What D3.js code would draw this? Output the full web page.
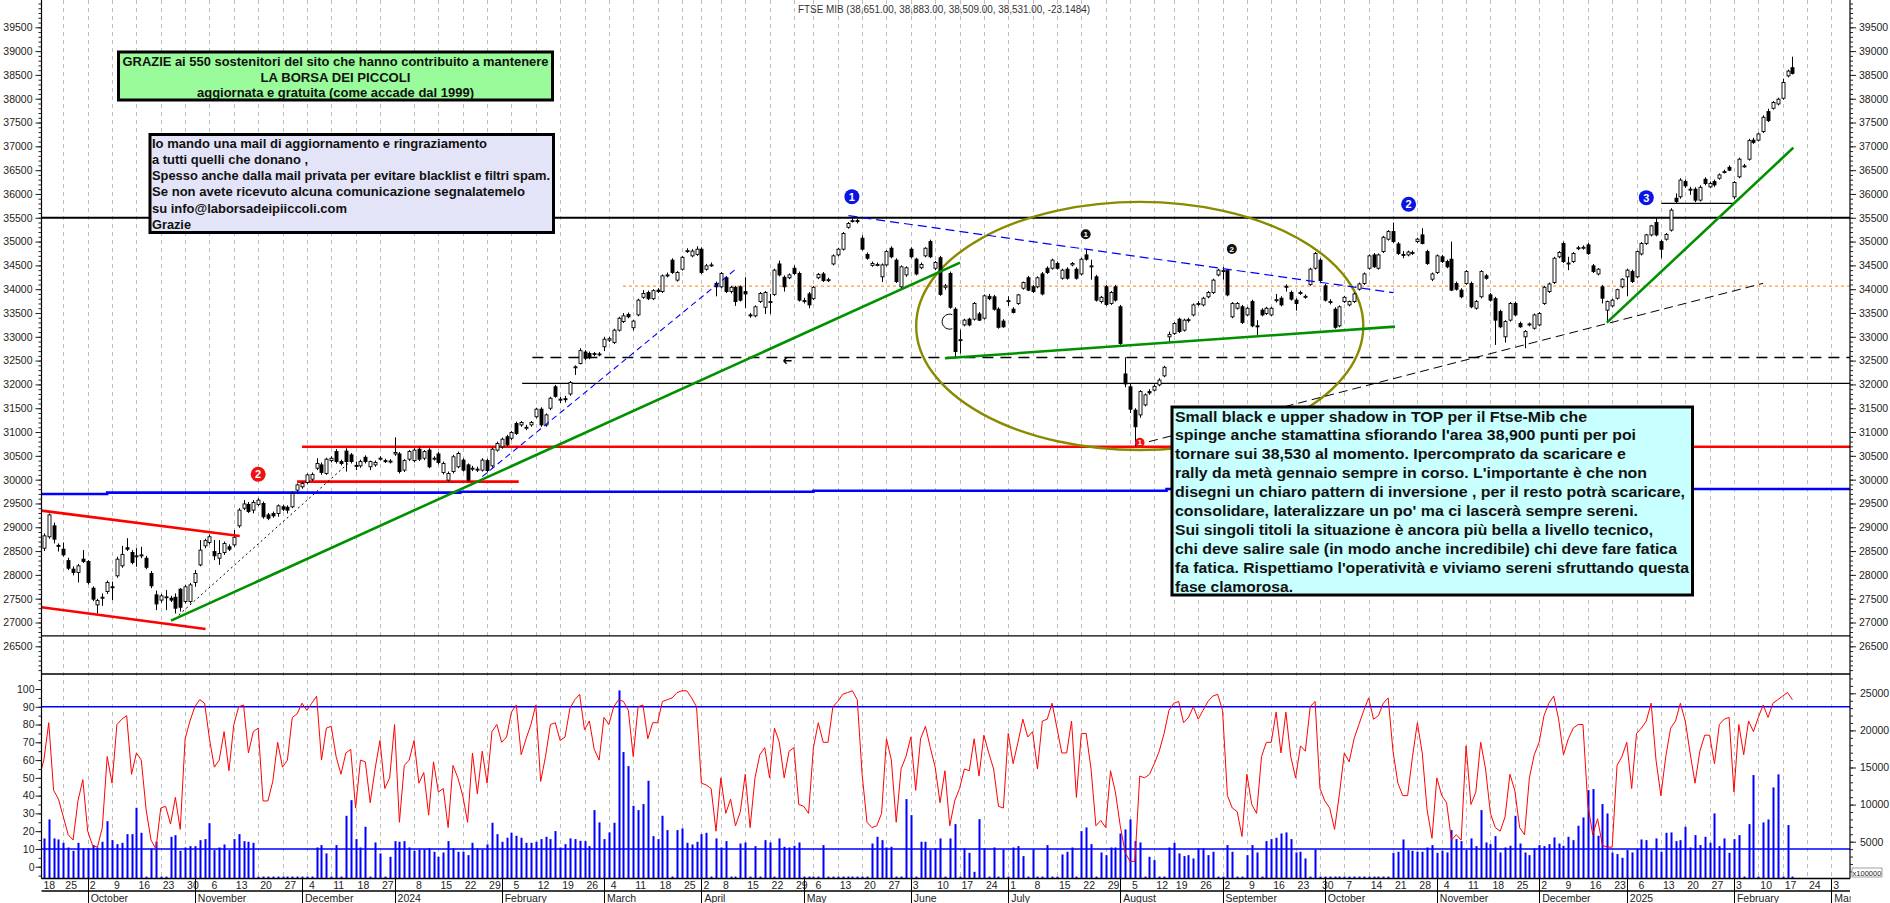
<!DOCTYPE html>
<html><head><meta charset="utf-8">
<script src="https://cdn.jsdelivr.net/npm/d3@7"></script>
<style>
html,body{margin:0;padding:0;background:#fff;}
svg{display:block;font-family:"Liberation Sans",Arial,sans-serif;}
</style></head><body>
<svg id="chart" width="1890" height="903"></svg>
<script>
// ---------------- DATA ----------------
const holidays = ["2023-12-25","2023-12-26","2024-01-01","2024-03-29","2024-04-01","2024-05-01","2024-08-15","2024-12-24","2024-12-25","2024-12-26","2024-12-31","2025-01-01"];
const monthLabels = ["October","November","December","2024","February","March","April","May","June","July","August","September","October","November","December","2025","February","Mar"];
const priceTicks = d3.range(26500, 39501, 500);
const oscTicks = d3.range(0, 101, 10);
const volTicks = [5000, 10000, 15000, 20000, 25000];
const titleText = "FTSE MIB (38,651.00, 38,883.00, 38,509.00, 38,531.00, -23.1484)";

// daily candles [open, high, low, close] from 18 Sep 2023
const candles = [
[28700,28800,28520,28560],[28560,28870,28500,28820],[28800,29290,28760,29260],[29030,29100,28660,28750],[28620,28660,28490,28600],
[28540,28680,28380,28420],[28300,28360,28100,28140],[28120,28180,27990,28050],[28050,28230,27840,28190],[28330,28520,28250,28280],
[28280,28310,27800,27840],[27720,27760,27450,27490],[27370,27500,27190,27460],[27510,27610,27350,27530],[27650,27880,27600,27840],
[27750,27860,27470,27730],[27980,28380,27940,28330],[28190,28610,28150,28430],[28570,28770,28500,28540],[28470,28520,28220,28260],
[28380,28560,28170,28400],[28410,28590,28350,28420],[28350,28400,28120,28160],[28030,28080,27720,27770],[27580,27670,27260,27390],
[27470,27600,27420,27560],[27530,27680,27260,27540],[27510,27560,27430,27470],[27530,27610,27190,27300],[27700,27720,27230,27320],
[27440,27790,27400,27750],[27440,27830,27400,27790],[27840,28100,27750,28030],[28210,28730,28180,28520],[28610,28760,28560,28720],
[28680,28850,28640,28800],[28490,28730,28310,28400],[28350,28730,28210,28450],[28470,28700,28420,28660],[28590,28640,28500,28540],
[28630,28940,28590,28790],[29030,29400,28990,29360],[29400,29570,29360,29490],[29480,29530,29300,29330],[29360,29570,29290,29520],
[29480,29610,29450,29570],[29500,29540,29180,29220],[29260,29300,29150,29190],[29290,29330,29200,29240],[29290,29480,29220,29450],
[29430,29470,29340,29380],[29420,29460,29290,29360],[29430,29750,29400,29710],[29780,29920,29740,29890],[29850,29960,29810,29920],
[29940,30130,29900,30100],[30010,30150,29970,30110],[30240,30450,30200,30340],[30310,30360,30100,30150],[30130,30460,30100,30430],
[30400,30490,30360,30450],[30590,30640,30340,30380],[30380,30420,30300,30340],[30600,30660,30170,30380],[30520,30560,30340,30380],
[30300,30380,30200,30290],[30290,30420,30250,30380],[30470,30510,30340,30380],[30270,30400,30200,30380],[30310,30400,30270,30360],
[30440,30490,30400,30450],[30400,30440,30350,30390],[30380,30430,30340,30390],[30540,30890,30500,30570],[30540,30580,30130,30170],
[30200,30430,30160,30400],[30430,30620,30390,30590],[30400,30660,30360,30620],[30640,30680,30390,30430],[30450,30620,30410,30590],
[30620,30660,30240,30270],[30440,30490,30400,30450],[30540,30580,30320,30360],[30150,30380,30110,30340],[29990,30170,29960,30130],
[30170,30520,30130,30480],[30270,30590,30240,30550],[30410,30450,30170,30200],[30310,30340,29960,29990],[30230,30290,30180,30240],
[30210,30270,30160,30220],[30200,30450,30170,30410],[30400,30440,30150,30190],[30290,30670,30250,30640],[30620,30800,30590,30760],
[30690,30880,30650,30850],[30900,30940,30690,30730],[30870,31020,30830,30990],[31180,31220,30940,30970],[31150,31230,31110,31200],
[31090,31150,31040,31100],[31150,31230,31110,31200],[31320,31510,31290,31480],[31480,31520,31110,31150],[31150,31390,31110,31360],
[31500,31740,31460,31710],[31950,31990,31720,31750],[31680,31740,31610,31690],[31700,31760,31620,31690],[31800,32070,31760,32040],
[32360,32400,32200,32370],[32440,32760,32420,32710],[32680,32720,32510,32550],[32650,32690,32530,32560],[32630,32680,32590,32650],
[32640,32680,32590,32620],[32790,33000,32700,32950],[32930,33000,32890,32960],[32880,33170,32850,33140],[33140,33420,33110,33390],
[33320,33500,33290,33440],[33470,33510,33390,33420],[33190,33360,33130,33330],[33460,33800,33430,33770],[33830,33980,33800,33910],
[33930,33970,33770,33800],[33800,34000,33770,33970],[33980,34020,33920,33950],[33950,34310,33920,34280],[34280,34350,34250,34300],
[34610,34650,34320,34350],[34190,34380,34160,34350],[34420,34700,34390,34670],[34790,34860,34760,34810],[34700,34840,34670,34800],
[34730,34900,34700,34840],[34840,34880,34320,34350],[34420,34530,34390,34490],[34500,34560,34470,34510],[34120,34160,33850,34050],
[34050,34360,34020,34330],[34240,34280,33920,33950],[33950,34070,33910,34040],[34040,34070,33650,33740],[34050,34080,33740,33770],
[33950,34250,33600,33900],[33460,33500,33400,33440],[33440,33660,33410,33630],[33740,33940,33710,33910],[33620,33960,33480,33930],
[33720,33900,33480,33740],[33890,34430,33860,34400],[34530,34600,34270,34300],[34250,34290,33950,34050],[34240,34330,34210,34300],
[34440,34500,34300,34330],[34330,34370,33740,33770],[33760,33820,33700,33750],[33900,33940,33600,33670],[33800,34070,33770,34040],
[34240,34340,34210,34310],[34320,34360,34150,34180],[34190,34240,34150,34200],[34530,34730,34500,34700],[34720,34870,34690,34840],
[34840,35200,34810,35170],[35300,35410,35270,35380],[35420,35520,35400,35440],[35440,35480,35380,35420],[35070,35130,34810,34840],
[34730,34770,34620,34650],[34500,34580,34470,34540],[34510,34560,34480,34520],[34260,34540,34150,34510],[34510,34820,34480,34790],
[34860,34900,34650,34680],[34610,34650,34130,34160],[34050,34500,34020,34470],[34300,34480,34260,34450],[34840,34880,34650,34680],
[34630,34660,34290,34320],[34450,34560,34420,34520],[34700,34880,34670,34860],[35000,35040,34650,34680],[34440,34590,34400,34560],
[34660,34700,33860,33890],[34040,34110,33990,34070],[34330,34370,33590,33620],[33580,33620,32550,32690],[32920,33150,32650,32940],
[33250,33380,33220,33350],[33370,33400,33220,33250],[33370,33730,33340,33700],[33480,33520,33330,33350],[33390,33890,33360,33860],
[33850,33900,33770,33800],[33840,33880,33550,33580],[33580,33620,33170,33200],[33330,33370,33190,33210],[33750,33850,33650,33760],
[33580,33620,33490,33510],[33700,33900,33670,33880],[34020,34160,33990,34140],[34240,34280,33960,33980],[34050,34090,33920,33950],
[34050,34270,34020,34240],[34320,34360,33870,33900],[34440,34480,34320,34350],[34440,34640,34410,34610],[34540,34580,34410,34440],
[34230,34430,34200,34400],[34420,34460,34200,34230],[34510,34570,34480,34540],[34420,34460,34200,34230],[34320,34660,34290,34630],
[34720,34830,34600,34630],[34480,34620,34200,34490],[34260,34300,33740,33770],[33740,33860,33700,33830],[34050,34090,33650,33680],
[33700,33960,33670,33930],[34050,34090,33740,33770],[33630,33670,32830,32860],[32220,32570,31940,32010],[31950,32020,31400,31480],
[31460,31500,30700,31110],[31360,31880,31300,31850],[31570,31810,31540,31780],[31850,31900,31780,31820],[31880,32000,31850,31960],
[31990,32130,31960,32090],[32180,32390,32150,32360],[33000,33110,32900,33050],[33070,33310,33040,33280],[33370,33400,33080,33110],
[33140,33380,33110,33350],[33340,33400,33300,33360],[33460,33700,33430,33670],[33690,33750,33650,33700],[33670,33840,33640,33810],
[33840,33960,33810,33930],[33930,34220,33900,34190],[34300,34430,34270,34400],[34380,34470,34200,34390],[34390,34420,33850,33880],
[33420,33730,33390,33700],[33600,33730,33570,33700],[33630,33670,33270,33300],[33460,33630,33430,33600],[33740,33780,33200,33230],
[33230,33350,33040,33220],[33560,33600,33430,33460],[33490,33630,33460,33600],[33460,33630,33430,33600],[33760,33900,33720,33780],
[33810,33850,33640,33670],[34040,34100,33950,34060],[33930,33970,33760,33790],[33770,33810,33550,33700],[33920,33970,33880,33930],
[33840,33890,33800,33850],[34100,34450,34070,34420],[34440,34780,34410,34750],[34610,34650,34150,34180],[34070,34110,33740,33770],
[33730,33790,33680,33740],[33580,33620,33170,33200],[33230,33660,33200,33630],[33740,33860,33710,33830],[33670,33760,33640,33740],
[33740,33930,33710,33900],[34000,34140,33970,34110],[34120,34350,34090,34320],[34440,34730,34410,34700],[34720,34760,34450,34470],
[34440,34750,34410,34720],[34790,35120,34760,35090],[35050,35240,35020,35210],[35210,35400,34970,35000],[34950,34990,34720,34750],
[34730,34800,34650,34720],[34720,34810,34690,34780],[34760,34810,34720,34770],[35000,35080,34970,35050],[35140,35280,34940,34960],
[34790,34830,34510,34540],[34210,34350,34170,34320],[34350,34730,34320,34700],[34680,34720,34550,34580],[34580,34620,34440,34470],
[34630,35000,33960,33980],[34120,34160,33970,34000],[33980,34020,33810,33840],[34120,34400,34090,34370],[34120,34160,33600,33630],
[33600,33770,33570,33740],[33840,34400,33810,34370],[34280,34320,34200,34230],[33880,33920,33740,33770],[33800,33840,32830,33350],
[33530,33570,33180,33210],[33000,33350,32880,33320],[33350,33730,33320,33700],[33700,33740,33430,33460],[33280,33320,33190,33210],
[33000,33140,32760,33110],[33260,33300,33220,33270],[33180,33490,33150,33460],[33250,33520,33220,33490],[33700,34070,33670,34040],
[33950,34140,33920,34110],[34140,34680,34110,34650],[34680,34800,34650,34770],[34960,35000,34550,34580],[34540,34680,34400,34550],
[34580,34780,34550,34750],[34860,34910,34820,34870],[34870,34920,34830,34880],[34930,34970,34720,34750],[34490,34530,34340,34370],
[34320,34440,34290,34420],[34050,34090,33700,33810],[33560,33760,33300,33740],[33650,33800,33620,33770],[33810,34010,33780,33990],
[34050,34230,34020,34210],[34260,34430,33850,34400],[34370,34410,34130,34160],[34260,34810,34230,34790],[34740,34990,34710,34960],
[34960,35160,34930,35140],[35140,35350,35110,35330],[35400,35490,35110,35140],[35000,35040,34650,34840],[35050,35180,35020,35150],
[35240,35700,35210,35660],[35910,36010,35800,35840],[35940,36330,35900,36290],[36260,36300,36130,36170],[36090,36150,35980,36100],
[36100,36140,35830,35870],[35870,36180,35840,36140],[36310,36350,36180,36220],[36150,36260,36120,36220],[36260,36300,36150,36190],
[36330,36430,36300,36400],[36460,36510,36430,36470],[36560,36600,36480,36500],[35940,36270,35890,36240],[36360,36760,36330,36730],
[36580,36630,36550,36590],[36730,37160,36700,37120],[37130,37180,37050,37080],[37130,37290,37100,37260],[37310,37650,37280,37610],
[37730,37790,37510,37540],[37800,37950,37770,37920],[37890,38020,37860,37990],[38010,38420,37980,38340],[38480,38610,38450,38580],
[38651,38883,38509,38531]
];

// oscillator (0-100)
const osc = [
50,60,81,43,38,28,18,15,37,49, 20,12,11,22,62,47,80,83,85,52, 64,60,32,15,10,33,34,24,39,21, 72,82,90,94,92,72,56,60,76,54,
80,90,91,64,76,78,37,37,48,70, 56,60,84,86,92,88,92,96,60,78, 79,62,52,64,66,33,60,59,36,55, 71,44,50,80,25,57,60,71,47,53,
29,59,42,44,22,57,50,40,25,64, 41,65,47,76,80,70,73,87,91,63, 72,80,91,48,62,80,81,71,73,89, 94,97,77,82,66,60,84,80,90,94,
93,88,62,90,91,72,81,81,93,94, 95,98,99,99,95,90,47,46,44,20, 50,30,38,23,31,52,22,50,63,67, 50,78,70,50,65,67,35,34,30,67,
81,70,70,90,93,97,98,99,94,52, 25,22,23,30,72,60,25,55,62,73, 43,72,79,67,56,36,54,23,37,44, 55,54,72,51,74,64,55,34,33,75,
58,70,83,73,76,55,82,83,92,78, 64,64,82,39,75,75,55,23,26,22, 54,42,23,8,3,3,51,50,52,58, 65,75,88,92,93,81,84,90,83,88,
93,96,97,88,40,33,31,17,52,35, 30,62,70,70,87,64,87,62,50,68, 65,90,93,44,37,33,21,41,64,59, 72,80,88,95,83,85,92,95,65,47,
40,40,62,81,64,32,16,50,40,36, 15,18,15,68,35,42,70,55,30,22, 20,28,52,43,22,18,50,63,70,85, 92,96,83,63,72,78,80,80,35,18,
27,12,11,11,57,62,70,44,75,78, 82,92,60,40,62,78,82,92,82,64, 47,65,74,74,58,80,83,84,42,80, 63,82,76,84,91,84,92,94,96,98,94
];

// volume (x100000)
const volume = [
5000,5440,8000,5440,5300,4850,4220,3780,4850,4090, 4090,4540,4220,4990,7770,5210,4670,4850,6020,6020,
9570,6200,300,4090,4990,300,300,5660,5880,3780, 4220,4400,4400,5210,5350,7500,3870,4220,4630,3870,
5350,6020,5080,4990,4850,300,300,300,300,300, 300,300,300,300,300,300,300,4220,4540,3420,
300,4540,300,8490,10600,5350,4220,7010,300,4900, 3420,300,2970,5080,4990,5080,4220,3780,3950,3950,
4090,3640,2970,3550,5080,4090,3640,3640,3190,4850, 4090,3950,4630,7550,6020,4990,5530,6200,5800,5530,
4850,4850,4990,5350,5660,5350,6430,4220,4670,5440, 5350,5120,5080,4400,9260,7600,5350,6250,7550,25390,
17080,15190,9840,9260,10070,13210,5750,5350,8490,6560, 300,6560,6790,4850,4630,4990,6020,6200,300,5440,
4220,5080,300,300,4760,4900,300,4400,300,5210, 4900,300,5440,4310,4220,4450,4900,300,300,300,
300,4540,300,300,300,300,300,300,300,300, 300,4760,5660,5210,4220,4310,300,300,10740,8580,
300,4990,4990,3870,4090,5440,300,5440,7370,300, 4090,3500,940,8040,4090,300,4220,300,3950,300,
4220,4400,3060,300,3950,300,300,4540,300,300, 3280,3640,4220,300,6430,6920,4670,300,3550,3190,
4220,4220,6110,6650,8000,5080,4900,300,2970,2520, 300,300,4220,4850,3420,3060,3190,2740,4090,4090,
3190,3640,300,300,4540,3640,300,300,3190,4540, 3550,300,5080,5350,5530,6110,6250,5350,3550,3640,
2740,300,3950,300,300,300,300,300,300,300, 300,300,300,300,300,300,300,300,3500,3640,
5300,3870,3780,3640,3640,4220,4540,3500,3780,3550, 6560,5350,5080,3870,5440,4400,9260,4900,4670,5750,
3550,4220,4450,8490,4760,3550,3190,4090,4540,4400, 4670,5570,4760,4450,5660,5210,7150,8270,11950,12090,
5800,10070,8810,3550,3330,2830,3870,3550,4000,5300, 5210,3870,5440,3640,6200,6250,5080,5210,7010,4220,
5890,4540,5660,4850,8810,4400,5440,3500,5350,5890, 300,7370,13980,300,7600,8000,12310,14070,300,7240,300
];

// drawn studies, in (day index, price) terms
const levels = [
  {kind:"resistance", from:-1,    to:372,  v:35500},
  {kind:"thinBlack",  from:-1,    to:372,  v:26717},
  {kind:"thinBlack",  from:99.2,  to:372,  v:32020},
  {kind:"dashBlack",  from:101.3, to:372,  v:32565},
  {kind:"orangeDot",  from:119.9, to:372,  v:34065},
  {kind:"redThick",   from:54,    to:372,  v:30690},
  {kind:"redThick",   from:53,    to:98.5, v:29958},
  {kind:"thinBlack",  from:333.1, to:347.9,v:35803}
];
const trendlines = [
  {kind:"redThick",  a:[0.5,29349],  b:[41.2,28817]},
  {kind:"redThick",  a:[0.5,27319],  b:[34.2,26864]},
  {kind:"green",     a:[27.1,27039], b:[189.1,34557]},
  {kind:"dotBlack",  a:[28.7,27158], b:[63.5,30343]},
  {kind:"blueDash",  a:[91,30063],   b:[143.1,34424]},
  {kind:"blueDash2", a:[166.2,35544],b:[278.1,33927]},
  {kind:"green",     a:[186,32548],  b:[278.4,33213]},
  {kind:"green",     a:[321.9,33297],b:[360.2,36972]},
  {kind:"dashBlack2",a:[227.9,30798],b:[354,34123]}
];
const blueSupport = [[-1,29700],[14,29700],[14,29727],[86.5,29727],[86.5,29746],[159,29746],[159,29767],[231.5,29767],[231.5,29804],[372,29804]];
const ellipse = {i:226, v:33229, di:45.9, dv:2605};
const markers = [
  {i:166.9, v:35943, t:"1", kind:"blue"},
  {i:281.2, v:35783, t:"2", kind:"blue"},
  {i:330,   v:35922, t:"3", kind:"blue"},
  {i:45,    v:30113, t:"2", kind:"red"},
  {i:226,   v:30777, t:"1", kind:"redSmall"},
  {i:214.9, v:35153, t:"1", kind:"black"},
  {i:244.9, v:34844, t:"2", kind:"black"}
];
const arcMark = {i:186.7, v:33318};
const arrowMark = {i:153.7, v:32498};

const greenBoxLines = ["GRAZIE ai 550 sostenitori del sito che hanno contribuito a mantenere","LA BORSA DEI PICCOLI","aggiornata e gratuita (come accade dal 1999)"];
const lavenderLines = ["Io mando una mail di aggiornamento e ringraziamento","a tutti quelli che donano ,","Spesso anche dalla mail privata per evitare blacklist e filtri spam.","Se non avete ricevuto alcuna comunicazione segnalatemelo","su info@laborsadeipiiccoli.com","Grazie"];
const cyanLines = ["Small black e upper shadow in TOP per il Ftse-Mib che","spinge anche stamattina sfiorando l'area 38,900 punti per poi","tornare sui 38,530 al momento. Ipercomprato da scaricare e","rally da metà gennaio sempre in corso. L'importante è che non","disegni un chiaro pattern di inversione , per il resto potrà scaricare,","consolidare, lateralizzare un po' ma ci lascerà sempre sereni.","Sui singoli titoli la situazione è ancora più bella a livello tecnico,","chi deve salire sale (in modo anche incredibile) chi deve fare fatica","fa fatica. Rispettiamo l'operatività e viviamo sereni sfruttando questa","fase clamorosa."];

// ---------------- CALENDAR ----------------
function buildCalendar(n){
  const out=[]; const d=new Date(Date.UTC(2023,8,18));
  while(out.length<n){
    const wd=d.getUTCDay(), iso=d.toISOString().slice(0,10);
    if(wd!==0 && wd!==6 && !holidays.includes(iso)) out.push(new Date(d.getTime()));
    d.setUTCDate(d.getUTCDate()+1);
  }
  return out;
}
const dates = buildCalendar(378);

// ---------------- LAYOUT / SCALES ----------------
const L = 41.5, R = 1850, mainTop = 0, sep = 674, lowBottom = 878.5, dayRow = 891;
const x = d3.scaleLinear().domain([0,360]).range([39,1792.4]);
const y = d3.scaleLinear().domain([26500,39500]).range([646.3,27.3]);
const yo = d3.scaleLinear().domain([0,100]).range([866.7,689]);
const yv = d3.scaleLinear().domain([0,25000]).range([878.8,693.3]);

const svg = d3.select("#chart");
const defs = svg.append("defs");
defs.append("clipPath").attr("id","clipMain").append("rect").attr("x",L).attr("y",mainTop).attr("width",R-L).attr("height",sep-mainTop);
defs.append("clipPath").attr("id","clipLow").append("rect").attr("x",L).attr("y",sep).attr("width",R-L).attr("height",lowBottom-sep);

// week starts / labels
const weekStarts=[]; let lastLbl=-99;
for(let i=0;i<dates.length;i++){
  const newWeek = i===0 || dates[i].getUTCDay() <= dates[i-1].getUTCDay() || (dates[i]-dates[i-1]) > 4*864e5;
  if(newWeek && i-lastLbl>=4){ weekStarts.push(i); lastLbl=i; }
}
const monthStarts=[];
for(let i=1;i<dates.length;i++) if(dates[i].getUTCMonth()!==dates[i-1].getUTCMonth()) monthStarts.push(i);

// gridlines
const grid = svg.append("g");
grid.selectAll("line").data(weekStarts.filter(i=>x(i)>L+1 && x(i)<R-1)).join("line")
  .attr("x1",i=>Math.round(x(i))+0.5).attr("x2",i=>Math.round(x(i))+0.5)
  .attr("y1",0).attr("y2",lowBottom).attr("stroke","#bdbdbd").attr("stroke-width",1).attr("stroke-dasharray","4,4");

// ---------------- MAIN PANEL ----------------
const gm = svg.append("g").attr("clip-path","url(#clipMain)");
const style = {
  resistance:{c:"#000",w:2.2,d:null}, thinBlack:{c:"#000",w:1.3,d:null}, dashBlack:{c:"#000",w:1.3,d:"11,7"},
  orangeDot:{c:"#ff9a3c",w:1.2,d:"3,3"}, redThick:{c:"#ff0000",w:2.6,d:null}, green:{c:"#009000",w:2.6,d:null},
  dotBlack:{c:"#000",w:1,d:"2,3"}, blueDash:{c:"#0000ff",w:1.1,d:"6,4"}, blueDash2:{c:"#0000ff",w:1.2,d:"9,5"},
  dashBlack2:{c:"#000",w:1,d:"9,5"}
};
gm.selectAll("line.lvl").data(levels).join("line").attr("class","lvl")
  .attr("x1",d=>x(d.from)).attr("x2",d=>x(d.to)).attr("y1",d=>y(d.v)).attr("y2",d=>y(d.v))
  .attr("stroke",d=>style[d.kind].c).attr("stroke-width",d=>style[d.kind].w).attr("stroke-dasharray",d=>style[d.kind].d);
gm.append("path").datum(blueSupport).attr("d",d3.line().x(d=>x(d[0])).y(d=>y(d[1])))
  .attr("fill","none").attr("stroke","#0000ff").attr("stroke-width",2.6);
gm.append("ellipse").attr("cx",x(ellipse.i)).attr("cy",y(ellipse.v))
  .attr("rx",x(ellipse.i+ellipse.di)-x(ellipse.i)).attr("ry",y(ellipse.v-ellipse.dv)-y(ellipse.v))
  .attr("fill","none").attr("stroke","#8a8a00").attr("stroke-width",2.4);

// candles
const gc = gm.append("g");
gc.selectAll("line.wick").data(candles).join("line").attr("class","wick")
  .attr("x1",(d,i)=>Math.round(x(i))+0.5).attr("x2",(d,i)=>Math.round(x(i))+0.5)
  .attr("y1",d=>y(d[1])).attr("y2",d=>y(d[2])).attr("stroke","#000").attr("stroke-width",1);
gc.selectAll("rect.body").data(candles).join("rect").attr("class","body")
  .attr("x",(d,i)=>Math.round(x(i))-1).attr("width",3)
  .attr("y",d=>y(Math.max(d[0],d[3])))
  .attr("height",d=>Math.max(1,Math.abs(y(d[0])-y(d[3]))))
  .attr("fill",d=>d[3]>=d[0]?"#fff":"#000").attr("stroke","#000").attr("stroke-width",0.9);

// trendlines over candles
gm.selectAll("line.tl").data(trendlines).join("line").attr("class","tl")
  .attr("x1",d=>x(d.a[0])).attr("y1",d=>y(d.a[1])).attr("x2",d=>x(d.b[0])).attr("y2",d=>y(d.b[1]))
  .attr("stroke",d=>style[d.kind].c).attr("stroke-width",d=>style[d.kind].w).attr("stroke-dasharray",d=>style[d.kind].d);

// markers
const mstyle = {blue:{r:7.5,f:"#0a14e6",fs:11}, red:{r:7.5,f:"#f01010",fs:11}, redSmall:{r:4.8,f:"#f01010",fs:7.5}, black:{r:5,f:"#111",fs:8}};
const mg = gm.selectAll("g.mk").data(markers).join("g").attr("class","mk")
  .attr("transform",d=>`translate(${x(d.i)},${y(d.v)})`);
mg.append("circle").attr("r",d=>mstyle[d.kind].r).attr("fill",d=>mstyle[d.kind].f);
mg.append("text").text(d=>d.t).attr("text-anchor","middle").attr("dy",d=>mstyle[d.kind].fs*0.36)
  .attr("font-size",d=>mstyle[d.kind].fs).attr("font-weight","bold").attr("fill","#fff");
{
  const cx=x(arcMark.i), cy=y(arcMark.v);
  gm.append("path").attr("d",`M${cx+4},${cy-7} A7.5,7.5 0 1 0 ${cx+4},${cy+7}`).attr("fill","none").attr("stroke","#000").attr("stroke-width",1);
  const ax=x(arrowMark.i), ay=y(arrowMark.v);
  gm.append("path").attr("d",`M${ax-4},${ay} L${ax+4},${ay} M${ax-4},${ay} L${ax-1},${ay-3} M${ax-4},${ay} L${ax-1},${ay+3}`)
    .attr("stroke","#000").attr("stroke-width",1.4).attr("fill","none");
}

// ---------------- LOWER PANEL ----------------
const gl = svg.append("g").attr("clip-path","url(#clipLow)");
gl.selectAll("rect.vol").data(volume).join("rect").attr("class","vol")
  .attr("x",(d,i)=>Math.round(x(i))-0.5).attr("width",2)
  .attr("y",d=>yv(d)).attr("height",d=>yv(0)-yv(d)).attr("fill","#0000ff");
[90,10].forEach(v=>gl.append("line").attr("x1",L).attr("x2",R).attr("y1",yo(v)).attr("y2",yo(v)).attr("stroke","#0000ff").attr("stroke-width",1.5));
gl.append("path").datum(osc).attr("d",d3.line().x((d,i)=>x(i)).y(d=>yo(d)))
  .attr("fill","none").attr("stroke","#ff0000").attr("stroke-width",1);

// ---------------- FRAME & AXES ----------------
svg.append("line").attr("x1",L).attr("x2",R).attr("y1",sep).attr("y2",sep).attr("stroke","#000").attr("stroke-width",1.5);
svg.append("line").attr("x1",L).attr("x2",R).attr("y1",lowBottom).attr("y2",lowBottom).attr("stroke","#000").attr("stroke-width",1.6);
svg.append("line").attr("x1",L).attr("x2",R).attr("y1",dayRow).attr("y2",dayRow).attr("stroke","#000").attr("stroke-width",1.6);
svg.append("line").attr("x1",L).attr("x2",L).attr("y1",0).attr("y2",lowBottom).attr("stroke","#000").attr("stroke-width",1.2);
svg.append("line").attr("x1",R).attr("x2",R).attr("y1",0).attr("y2",lowBottom).attr("stroke","#000").attr("stroke-width",1.2);

function styleAxis(g){
  g.select(".domain").remove();
  g.selectAll("text").attr("font-size",10.5).attr("fill","#222").attr("font-family","'Liberation Sans',Arial,sans-serif");
  g.selectAll("line").attr("stroke","#222");
}
const minorP = d3.range(25900,40100,100).filter(v=>y(v)>=0 && y(v)<=sep-2);
svg.append("g").attr("transform",`translate(${L},0)`).call(d3.axisLeft(y).tickValues(minorP).tickSize(3).tickFormat("")).call(styleAxis);
svg.append("g").attr("transform",`translate(${L},0)`).call(d3.axisLeft(y).tickValues(priceTicks).tickSize(6).tickPadding(3).tickFormat(d3.format("d"))).call(styleAxis);
svg.append("g").attr("transform",`translate(${R},0)`).call(d3.axisRight(y).tickValues(minorP).tickSize(3).tickFormat("")).call(styleAxis);
svg.append("g").attr("transform",`translate(${R},0)`).call(d3.axisRight(y).tickValues(priceTicks).tickSize(6).tickPadding(3).tickFormat(d3.format("d"))).call(styleAxis);

const minorO = d3.range(-5,108,5).filter(v=>yo(v)>sep+2 && yo(v)<lowBottom-1);
svg.append("g").attr("transform",`translate(${L},0)`).call(d3.axisLeft(yo).tickValues(minorO).tickSize(3).tickFormat("")).call(styleAxis);
svg.append("g").attr("transform",`translate(${L},0)`).call(d3.axisLeft(yo).tickValues(oscTicks).tickSize(6).tickPadding(1)).call(styleAxis);
const minorV = d3.range(1000,27001,1000).filter(v=>yv(v)>sep+2);
svg.append("g").attr("transform",`translate(${R},0)`).call(d3.axisRight(yv).tickValues(minorV).tickSize(3).tickFormat("")).call(styleAxis);
svg.append("g").attr("transform",`translate(${R},0)`).call(d3.axisRight(yv).tickValues(volTicks).tickSize(6).tickPadding(4).tickFormat(d3.format("d"))).call(styleAxis);
svg.append("rect").attr("x",1852).attr("y",868).attr("width",30).attr("height",9).attr("fill","#fff").attr("stroke","#888").attr("stroke-width",0.8);
svg.append("text").attr("x",1867).attr("y",875.5).attr("text-anchor","middle").attr("font-size",7.5).attr("fill","#222").text("x100000");

// x axis labels
const xa = svg.append("g");
xa.selectAll("text.day").data(weekStarts.filter(i=>x(i)<R-6)).join("text").attr("class","day")
  .attr("x",i=>Math.max(x(i),L)+2).attr("y",888.5).attr("font-size",10.5).attr("fill","#222")
  .text(i=>dates[i].getUTCDate());
xa.selectAll("line.mon").data(monthStarts.filter(i=>x(i)<R)).join("line").attr("class","mon")
  .attr("x1",i=>Math.round(x(i))+0.5).attr("x2",i=>Math.round(x(i))+0.5).attr("y1",lowBottom).attr("y2",903)
  .attr("stroke","#000").attr("stroke-width",1);
xa.selectAll("text.mon").data(monthStarts.filter(i=>x(i)<R)).join("text").attr("class","mon")
  .attr("x",i=>x(i)+3).attr("y",901.5).attr("font-size",10.5).attr("fill","#222")
  .text((i,k)=>monthLabels[k]);
svg.append("rect").attr("x",R+0.6).attr("y",lowBottom+1).attr("width",40).attr("height",30).attr("fill","#fff");

// title
svg.append("text").attr("x",798).attr("y",12.5).attr("font-size",10).attr("fill","#333")
  .attr("textLength",292).attr("lengthAdjust","spacingAndGlyphs").text(titleText);

// ---------------- TEXT BOXES ----------------
function box(x0,y0,w,h,fill){ svg.append("rect").attr("x",x0).attr("y",y0).attr("width",w).attr("height",h).attr("fill",fill).attr("stroke","#000").attr("stroke-width",3); }
box(118.5,52,434,48,"#99fb99");
const gb=[{y:66,w:426},{y:81.5,w:150},{y:97,w:277}];
greenBoxLines.forEach((t,k)=>svg.append("text").attr("x",335.5).attr("y",gb[k].y).attr("text-anchor","middle")
  .attr("font-family","'Liberation Sans Narrow','Liberation Sans',Arial,sans-serif").attr("font-weight","bold").attr("font-size",12.5)
  .attr("textLength",gb[k].w).attr("lengthAdjust","spacingAndGlyphs").attr("fill","#111").text(t));
box(150,134.5,403.5,98,"#e4e4f8");
const lb=[{y:147.5,w:335},{y:163.5,w:156},{y:179.5,w:398},{y:196,w:373},{y:212.5,w:195},{y:228.5,w:39}];
lavenderLines.forEach((t,k)=>svg.append("text").attr("x",152).attr("y",lb[k].y)
  .attr("font-family","'Liberation Sans Narrow','Liberation Sans',Arial,sans-serif").attr("font-weight","bold").attr("font-size",12.5)
  .attr("textLength",lb[k].w).attr("lengthAdjust","spacingAndGlyphs").attr("fill","#111").text(t));
box(1172,407,520.5,188,"#c8ffff");
const cw=[412,461,451,472,510,463,478,502,514,118];
cyanLines.forEach((t,k)=>svg.append("text").attr("x",1175).attr("y",421.5+k*18.9)
  .attr("font-weight","bold").attr("font-size",14).attr("textLength",cw[k]).attr("lengthAdjust","spacingAndGlyphs")
  .attr("fill","#111").text(t));
</script>
</body></html>
